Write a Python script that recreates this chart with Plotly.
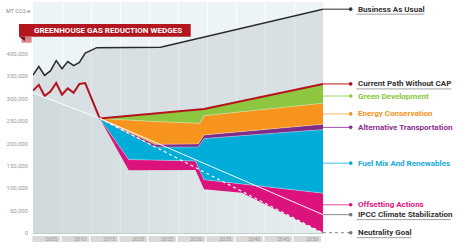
import plotly.graph_objects as go

# ---------------- data (thousand t CO2-e) ----------------
HIST_YEARS = [2000, 2001, 2002, 2003, 2004, 2005, 2006, 2007, 2008, 2009]
BAU_YEARS = HIST_YEARS + [2011, 2022, 2050]
BAU_VALUES = [353, 372, 352, 362, 385, 367, 383, 374, 381, 402, 414, 415, 500]
CURRENT_YEARS = HIST_YEARS + [2011.5, 2029.5, 2050]
CURRENT_VALUES = [318, 331, 306, 316, 335, 309, 323, 313, 333, 335, 256, 277, 333]

GREEN_TOP_YEARS = [2011.5, 2029.5, 2050]
GREEN_TOP_VALUES = [256, 277, 333]
ORANGE_TOP_YEARS = [2011.5, 2021, 2028.8, 2029.5, 2050]
ORANGE_TOP_VALUES = [256, 249, 245, 262, 290]
PURPLE_TOP_YEARS = [2011.5, 2016.5, 2021, 2028.5, 2029.5, 2050]
PURPLE_TOP_VALUES = [256, 225, 198, 199, 219, 243]
CYAN_TOP_YEARS = [2011.5, 2016.5, 2021, 2028.5, 2029.5, 2050]
CYAN_TOP_VALUES = [256, 223, 192, 192, 211, 231]
MAGENTA_TOP_YEARS = [2011.5, 2016.5, 2028, 2029.5, 2050]
MAGENTA_TOP_VALUES = [256, 164, 161, 119, 89]
MAGENTA_BOTTOM_YEARS = [2011.5, 2016.5, 2028, 2029.5, 2036, 2050]
MAGENTA_BOTTOM_VALUES = [256, 140, 141, 98, 90, 0]

IPCC_YEARS = [2000, 2011.5, 2050]
IPCC_VALUES = [313, 256, 41]
NEUTRAL_YEARS = [2011.5, 2050]
NEUTRAL_VALUES = [256, 0]

Y_TICKS = [0, 50, 100, 150, 200, 250, 300, 350, 400]
X_TICK_LABELS = ["2005", "2010", "2015", "2020", "2025", "2030", "2035", "2040", "2045", "2050"]

LABELS = ["Business As Usual", "Current Path Without CAP", "Green Development",
          "Energy Conservation", "Alternative Transportation", "Fuel Mix And Renewables",
          "Offsetting Actions", "IPCC Climate Stabilization", "Neutrality Goal"]

# ---------------- styling ----------------
K = 1000
W, H = 460, 250
PL, PR, PT, PB = 33, 323, 2, 233
YMAX = 516000
FONT = "Roboto"

C_BAU = "#2b2b2b"
C_RED = "#b5121b"
C_GREEN = "#8dc63f"
C_ORANGE = "#f7941d"
C_PURPLE = "#7f2b8c"
C_CYAN = "#00acd8"
C_MAGENTA = "#dc127d"


def sc(v):
    return [a * K for a in v]


def pxx(x):
    return (x - PL) / (PR - PL)


def pxy(y):
    return (PB - y) / (PB - PT)


fig = go.Figure()

# lower region (below IPCC line / wedges)
fig.add_trace(go.Scatter(
    x=IPCC_YEARS[:2] + MAGENTA_BOTTOM_YEARS[1:],
    y=sc(IPCC_VALUES[:2] + MAGENTA_BOTTOM_VALUES[1:]),
    mode="lines", line=dict(width=0), fill="tozeroy",
    fillgradient=dict(type="horizontal",
                      colorscale=[[0, "rgba(140,155,162,0.30)"], [1, "rgba(140,155,162,0.07)"]]),
))
# business as usual
fig.add_trace(go.Scatter(
    x=BAU_YEARS, y=sc(BAU_VALUES), mode="lines",
    line=dict(color=C_BAU, width=1.5), fill="tonexty",
    fillcolor="rgba(150,162,168,0.23)",
))

WL = dict(color="rgba(255,255,255,0.5)", width=0.7)
fig.add_trace(go.Scatter(x=MAGENTA_BOTTOM_YEARS, y=sc(MAGENTA_BOTTOM_VALUES),
                         mode="lines", line=dict(width=0)))
fig.add_trace(go.Scatter(x=MAGENTA_TOP_YEARS, y=sc(MAGENTA_TOP_VALUES), mode="lines",
                         line=WL, fill="tonexty", fillcolor=C_MAGENTA))
fig.add_trace(go.Scatter(x=CYAN_TOP_YEARS, y=sc(CYAN_TOP_VALUES), mode="lines",
                         line=WL, fill="tonexty", fillcolor=C_CYAN))
fig.add_trace(go.Scatter(x=PURPLE_TOP_YEARS, y=sc(PURPLE_TOP_VALUES), mode="lines",
                         line=WL, fill="tonexty", fillcolor=C_PURPLE))
fig.add_trace(go.Scatter(x=ORANGE_TOP_YEARS, y=sc(ORANGE_TOP_VALUES), mode="lines",
                         line=WL, fill="tonexty", fillcolor=C_ORANGE))
fig.add_trace(go.Scatter(x=GREEN_TOP_YEARS, y=sc(GREEN_TOP_VALUES), mode="lines",
                         line=WL, fill="tonexty", fillcolor=C_GREEN))
# current path
fig.add_trace(go.Scatter(x=CURRENT_YEARS, y=sc(CURRENT_VALUES), mode="lines",
                         line=dict(color=C_RED, width=2)))
# IPCC + neutrality
fig.add_trace(go.Scatter(x=IPCC_YEARS, y=sc(IPCC_VALUES), mode="lines",
                         line=dict(color="rgba(255,255,255,0.95)", width=1)))
fig.add_trace(go.Scatter(x=NEUTRAL_YEARS, y=sc(NEUTRAL_VALUES), mode="lines",
                         line=dict(color="white", width=1.2, dash="dot")))

shapes = []
annotations = []

# year cells under the axis
for lab in X_TICK_LABELS:
    yr = int(lab)
    shapes.append(dict(type="rect", xref="paper", yref="paper",
                       x0=(yr - 5 - 2000) / 50 - 0.002, x1=(yr - 0.35 - 2000) / 50,
                       y0=pxy(242), y1=pxy(236), fillcolor="#dadada", line=dict(width=0)))
    annotations.append(dict(x=(yr - 0.6 - 2000) / 50, y=pxy(239.2), xref="paper", yref="paper",
                            text=lab, showarrow=False, xanchor="right", yanchor="middle",
                            font=dict(family=FONT, size=5.5, color="#9a9a9a")))

# right-hand labels
LABEL_STYLE = [
    # (text colour, dot colour, label y value, underline width, dashed)
    ("#333333", "#333333", 500, 68, False),
    ("#333333", C_RED, 333, 95, False),
    (C_GREEN, C_GREEN, 306, 0, False),
    (C_ORANGE, C_ORANGE, 266, 0, False),
    ("#8e2f92", C_PURPLE, 236, 0, False),
    ("#17acd8", C_CYAN, 156, 0, False),
    ("#e3167f", C_MAGENTA, 63, 0, False),
    ("#333333", "#777777", 41, 94, False),
    ("#333333", "#777777", 0.7, 55, True),
]
LINE_COLORS = [C_BAU, C_RED, "#a9d66e", "#f9b566", "#9a52a6", "#40c0e2", "#e84d9d", "#8a8a8a", "#8a8a8a"]
DOT_X = 350.7
TXT_X = 355.5
for name, (tc, dc, yv, uw, dashed), lc in zip(LABELS, LABEL_STYLE, LINE_COLORS):
    yp = yv * K / YMAX
    shapes.append(dict(type="line", xref="paper", yref="paper",
                       x0=1.0, x1=pxx(DOT_X), y0=yp, y1=yp,
                       line=dict(color=lc, width=1, dash="dot" if dashed else "solid")))
    r = 1.8
    shapes.append(dict(type="circle", xref="paper", yref="paper",
                       x0=pxx(DOT_X - r), x1=pxx(DOT_X + r),
                       y0=yp - r / (PB - PT), y1=yp + r / (PB - PT),
                       fillcolor=dc, line=dict(width=0)))
    annotations.append(dict(x=pxx(TXT_X), y=yp, xref="paper", yref="paper", text=name,
                            showarrow=False, xanchor="left", yanchor="middle",
                            font=dict(family=FONT, size=8, color=tc, weight="bold")))
    if uw:
        uy = yp - 5 / (PB - PT)
        shapes.append(dict(type="line", xref="paper", yref="paper",
                           x0=pxx(TXT_X + 1), x1=pxx(TXT_X + 1 + uw), y0=uy, y1=uy,
                           line=dict(color="#a0a0a0", width=1)))

# title banner
shapes.append(dict(type="rect", xref="paper", yref="paper", layer="above",
                   x0=pxx(19), x1=pxx(190.7), y0=pxy(36.7), y1=pxy(24),
                   fillcolor="#b3161f", line=dict(width=0)))
shapes.append(dict(type="rect", xref="paper", yref="paper", layer="above",
                   x0=pxx(21.5), x1=pxx(31.7), y0=pxy(42.7), y1=pxy(36.7),
                   fillcolor="#d9868b", line=dict(width=0)))
shapes.append(dict(type="path", xref="paper", yref="paper", layer="above",
                   path=f"M {pxx(19)} {pxy(36.7)} L {pxx(25)} {pxy(36.7)} L {pxx(25)} {pxy(41)} Z",
                   fillcolor="#7d0d13", line=dict(width=0)))
annotations.append(dict(x=pxx(32), y=pxy(30.4), xref="paper", yref="paper",
                        text="GREENHOUSE GAS REDUCTION WEDGES", showarrow=False,
                        xanchor="left", yanchor="middle",
                        font=dict(family=FONT, size=8, color="white", weight="bold")))
annotations.append(dict(x=pxx(4), y=pxy(10.7), xref="paper", yref="paper",
                        text="MT CO2-e", showarrow=False, xanchor="left", yanchor="middle",
                        font=dict(family=FONT, size=5.5, color="#8a8a8a")))

fig.update_layout(
    width=W, height=H,
    margin=dict(l=PL, r=W - PR, t=PT, b=H - PB, pad=0),
    paper_bgcolor="white", plot_bgcolor="#ecf4f6",
    showlegend=False, hovermode=False,
    xaxis=dict(range=[2000, 2050], showticklabels=False, ticks="", showgrid=True,
               tick0=2000, dtick=5, gridcolor="rgba(255,255,255,0.85)", gridwidth=1,
               zeroline=False, showline=True, linecolor="#c4ccd0", linewidth=1,
               fixedrange=True),
    yaxis=dict(range=[0, YMAX], tickvals=[v * K for v in Y_TICKS], tickformat=",d",
               tickfont=dict(family=FONT, size=6, color="#9a9a9a"), showgrid=False,
               zeroline=False, ticks="", showline=False, ticklabelstandoff=4,
               fixedrange=True),
    shapes=shapes, annotations=annotations,
)

fig.write_html(
    "out.html",
    config={"displayModeBar": False, "staticPlot": True},
    post_script="document.body.style.margin='0';document.body.style.padding='0';",
)
